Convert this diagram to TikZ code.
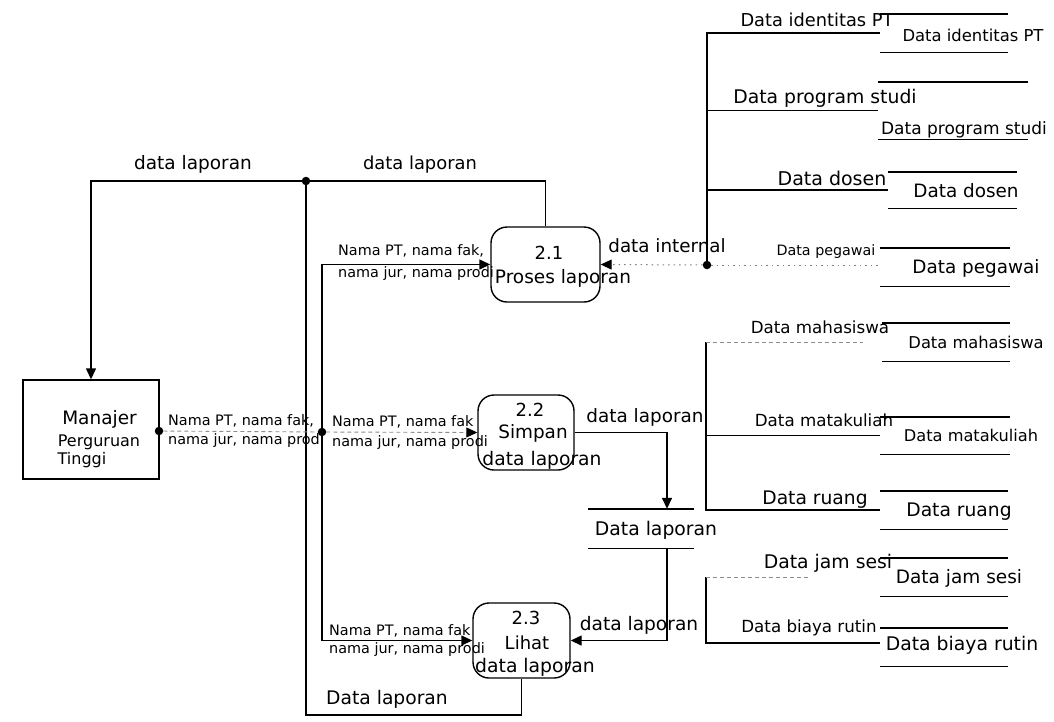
\documentclass[tikz,border=0pt]{standalone}
\usepackage{fontspec}
\setmainfont{DejaVu Sans}
\usetikzlibrary{arrows.meta,calc}

\tikzset{
  sz/.style={font=\fontsize{#1}{#1}\selectfont},
  txt/.style={inner sep=0pt, text=black},
  solidline/.style={line width=1.4pt, draw=black},
  faintline/.style={line width=0.9pt, draw=black!45, dash pattern=on 4pt off 3pt},
  dotline/.style={line width=1pt, draw=black!50, dash pattern=on 1.5pt off 4pt},
  flowtip/.style={-{Triangle[length=11pt,width=10pt,color=black]}},
  proc/.style={draw, line width=1.4pt, rounded corners=16pt, inner sep=0pt},
  entity/.style={draw, line width=1.4pt, inner sep=0pt},
  store/.style={inner sep=0pt, append after command={
      (\tikzlastnode.north west) edge[solidline] (\tikzlastnode.north east)
      (\tikzlastnode.south west) edge[solidline] (\tikzlastnode.south east)}},
  junction/.style={circle, fill=black, inner sep=0pt, minimum size=8.5pt},
}

\begin{document}
\begin{tikzpicture}[x=1pt, y=-1pt]
\useasboundingbox[fill=white] (0,0) rectangle (1054,721);

% ---------- external entity ----------
\node[entity, minimum width=136pt, minimum height=99pt] (me) at (91,429.5) {};
\node[txt, sz=18.5] (tMe1) at (99.5,419) {Manajer};
\node[txt, sz=16] (tMe2) at (99,442) {Perguruan};
\node[txt, sz=16] (tMe3) at (82,460) {Tinggi};

% ---------- processes ----------
\node[proc, minimum width=109pt, minimum height=75pt] (p21) at (545.5,264.5) {};
\node[txt, sz=18] (t21a) at (549,253) {2.1};
\node[txt, sz=18.5] (t21b) at (563,278) {Proses laporan};

\node[proc, minimum width=96pt, minimum height=75pt] (p22) at (526,432.5) {};
\node[txt, sz=18] (t22a) at (530,410) {2.2};
\node[txt, sz=18.4] (t22b) at (533,433) {Simpan};
\node[txt, sz=18.7] (t22c) at (542,460) {data laporan};

\node[proc, minimum width=97pt, minimum height=75pt] (p23) at (521.5,640.5) {};
\node[txt, sz=18] (t23a) at (526,618) {2.3};
\node[txt, sz=18] (t23b) at (527,643) {Lihat};
\node[txt, sz=18.8] (t23c) at (535,667) {data laporan};

% ---------- data stores ----------
\node[store, minimum width=106pt, minimum height=39pt] (ls) at (641,528.5) {};
\node[txt, sz=18.8] (tls) at (656,530) {Data laporan};

\node[store, minimum width=128pt, minimum height=38pt] (s1) at (944,33) {};
\node[txt, sz=16.4] (ts1) at (973,35) {Data identitas PT};
\node[store, minimum width=150pt, minimum height=57pt] (s2) at (953,110.5) {};
\node[txt, sz=17] (ts2) at (964,130) {Data program studi};
\node[store, minimum width=129pt, minimum height=36pt] (s3) at (952.5,190) {};
\node[txt, sz=18.4] (ts3) at (966,191) {Data dosen};
\node[store, minimum width=130pt, minimum height=38pt] (s4) at (945,267) {};
\node[txt, sz=18.4] (ts4) at (976,268) {Data pegawai};
\node[store, minimum width=128pt, minimum height=38pt] (s5) at (946,342) {};
\node[txt, sz=16.3] (ts5) at (976,342) {Data mahasiswa};
\node[store, minimum width=130pt, minimum height=37pt] (s6) at (945,435.5) {};
\node[txt, sz=16.2] (ts6) at (971,435) {Data matakuliah};
\node[store, minimum width=128pt, minimum height=38pt] (s7) at (944,510) {};
\node[txt, sz=18.7] (ts7) at (959,512) {Data ruang};
\node[store, minimum width=128pt, minimum height=38pt] (s8) at (944,577) {};
\node[txt, sz=18.5] (ts8) at (959,578) {Data jam sesi};
\node[store, minimum width=128pt, minimum height=38pt] (s9) at (944,647) {};
\node[txt, sz=18.8] (ts9) at (962,645) {Data biaya rutin};

% ---------- junctions and bends ----------
\node[junction] (j1) at (306,181) {};
\node[junction] (mdot) at (159,431) {};
\node[junction] (j2) at (322,432) {};
\node[junction] (j3) at (707,265) {};
\coordinate (c1) at (306,715);
\coordinate (c2) at (521.5,715);
\coordinate (u1) at (706,342);
\coordinate (u2) at (706,510);
\coordinate (u1end) at (863,342);
\coordinate (l1) at (706,577);
\coordinate (l2) at (706,643);
\coordinate (l1end) at (810,577);

% ---------- report flows back to the manager ----------
\draw[solidline, flowtip] (p21.north) |- (j1) -| (me.north);
\draw[solidline] (j1) -- (c1) -- (c2) -- (p23.south);

% ---------- request flows from the manager ----------
\draw[faintline] (mdot) -- (j2);
\draw[solidline, flowtip] (j2) |- (p21.west);
\draw[faintline, flowtip] (j2) -- (p22.west);
\draw[solidline, flowtip] (j2) |- (p23.west);

% ---------- internal data feeding process 2.1 ----------
\draw[dotline, flowtip] (j3) -- (p21.east);
\draw[solidline] (j3) |- (s1.west);
\draw[solidline] (j3 |- s2.west) -- (s2.west);
\draw[solidline] (j3 |- s3.west) -- (s3.west);
\draw[dotline] (j3) -- (j3 -| s4.west);

% ---------- further data stores ----------
\draw[solidline] (u1) -- (u2) -- (u2 -| s7.west);
\draw[faintline] (u1) -- (u1end);
\draw[solidline] (u1 |- s6.west) -- (s6.west);
\draw[solidline] (l1) -- (l2) -- (l2 -| s9.west);
\draw[faintline] (l1) -- (l1end);

% ---------- report store ----------
\draw[solidline, flowtip] (p22.east) -| ([xshift=26pt]ls.north);
\draw[solidline, flowtip] ([xshift=26pt]ls.south) |- (p23.east);

% ---------- flow labels ----------
\node[txt, sz=18.5] (fA) at (193,164) {data laporan};
\node[txt, sz=17.9] (fB) at (420,165) {data laporan};
\node[txt, sz=14.4, anchor=west] (fC1) at (168,421) {Nama PT, nama fak,};
\node[txt, sz=14.4, anchor=west] (fC2) at (168,441) {nama jur, nama prodi};
\node[txt, sz=14.4, anchor=west] (fD1) at (338,251) {Nama PT, nama fak,};
\node[txt, sz=14.4, anchor=west] (fD2) at (338,274) {nama jur, nama prodi};
\node[txt, sz=14.4, anchor=west] (fE1) at (332,422) {Nama PT, nama fak};
\node[txt, sz=14.4, anchor=west] (fE2) at (332,443) {nama jur, nama prodi};
\node[txt, sz=14.4, anchor=west] (fF1) at (329,631) {Nama PT, nama fak};
\node[txt, sz=14.4, anchor=west] (fF2) at (329,650) {nama jur, nama prodi};
\node[txt, sz=18.7] (fG) at (387,699) {Data laporan};
\node[txt, sz=18.3] (fH) at (667,246) {data internal};
\node[txt, sz=18.4] (fI) at (645,417) {data laporan};
\node[txt, sz=18.6] (fJ) at (639,625) {data laporan};

\node[txt, sz=17.8] (g1) at (817,20) {Data identitas PT};
\node[txt, sz=18.8] (g2) at (825,98) {Data program studi};
\node[txt, sz=19] (g3) at (832,178) {Data dosen};
\node[txt, sz=14.3] (g4) at (826,252) {Data pegawai};
\node[txt, sz=16.7] (g5) at (820,327) {Data mahasiswa};
\node[txt, sz=16.7] (g6) at (824,420) {Data matakuliah};
\node[txt, sz=18.7] (g7) at (815,500) {Data ruang};
\node[txt, sz=18.8] (g8) at (828,563) {Data jam sesi};
\node[txt, sz=16.7] (g9) at (809,628) {Data biaya rutin};
\end{tikzpicture}
\end{document}
